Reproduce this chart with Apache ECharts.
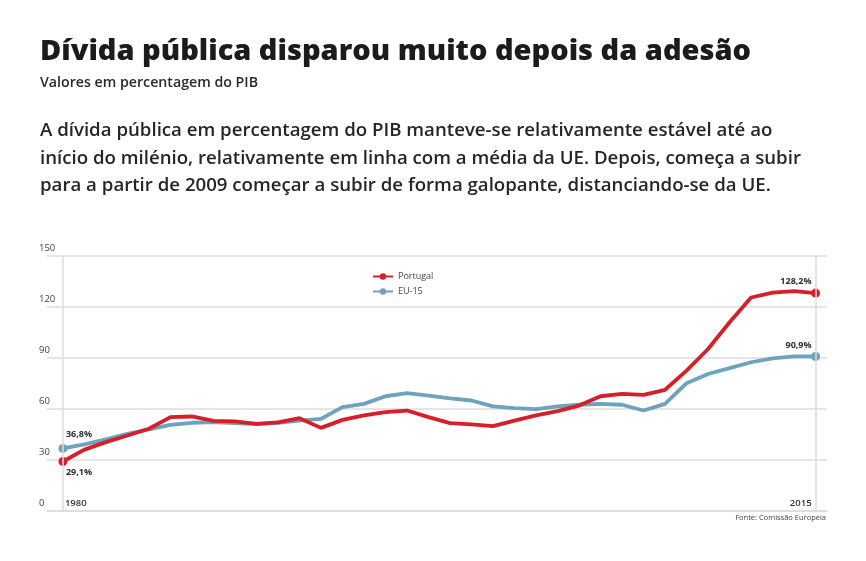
<!DOCTYPE html>
<html>
<head>
<meta charset="utf-8">
<script src="https://cdn.jsdelivr.net/npm/echarts@6/dist/echarts.min.js"></script>
<style>
html,body{margin:0;padding:0;background:#fff;}
#c{width:866px;height:561px;}
</style>
</head>
<body>
<div id="c"></div>
<script>
var years = [1980,1981,1982,1983,1984,1985,1986,1987,1988,1989,1990,1991,1992,1993,1994,1995,1996,1997,1998,1999,2000,2001,2002,2003,2004,2005,2006,2007,2008,2009,2010,2011,2012,2013,2014,2015];
var portugal = [29.1,36.1,40.5,44.4,48.4,55.2,55.6,53.0,52.7,51.3,52.1,54.6,48.9,53.6,56.2,58.1,59.1,55.2,51.7,50.9,49.9,53.2,56.2,58.7,62.0,67.5,68.9,68.3,71.3,82.6,95.3,111.0,125.6,128.5,129.3,128.2];
var eu15 = [36.8,39.2,42.1,45.4,48.0,50.7,51.9,52.3,51.7,51.1,51.9,53.2,54.2,61.1,63.0,67.5,69.3,67.9,66.3,65.0,61.5,60.5,59.9,61.5,62.5,63.0,62.5,59.1,63.0,75.2,80.6,84.0,87.5,89.8,91.0,90.9];
var yTicks = [0,30,60,90,120,150];
var xLabelYears = [1980,2015];
var seriesNames = ['Portugal','EU-15'];

var RED = '#d81e28', BLUE = '#6ca3bd';

function fmt(v){ return v.toFixed(1).replace('.', ',') + '%'; }

function buildData(vals, firstLabel, lastLabel){
  return vals.map(function(v, i){
    var item = {value: [years[i], v]};
    if (i === 0 || i === vals.length - 1) {
      var cfg = i === 0 ? firstLabel : lastLabel;
      item.symbolSize = 9;
      item.label = {
        show: true,
        formatter: fmt(v),
        position: cfg.position,
        align: cfg.align,
        offset: cfg.offset,
        color: '#2e2e2e', fontSize: 9, fontFamily: 'Open Sans', fontWeight: 700
      };
    } else {
      item.symbolSize = 0;
    }
    return item;
  });
}

var chart = echarts.init(document.getElementById('c'), null, {renderer: 'canvas'});
chart.setOption({
  animation: false,
  backgroundColor: '#fff',
  title: [
    {text: 'Dívida pública disparou muito depois da adesão', left: 40, top: 37, padding: 0,
     textStyle: {fontFamily: 'Open Sans', fontWeight: 800, fontSize: 29, color: '#1b1b1b'}},
    {text: 'Valores em percentagem do PIB', left: 40, top: 76, padding: 0,
     textStyle: {fontFamily: 'Open Sans', fontWeight: 600, fontSize: 14.2, color: '#2a2a2a'}},
    {text: 'A dívida pública em percentagem do PIB manteve-se relativamente estável até ao\ninício do milénio, relativamente em linha com a média da UE. Depois, começa a subir\npara a partir de 2009 começar a subir de forma galopante, distanciando-se da UE.',
     left: 40, top: 117, padding: 0,
     textStyle: {fontFamily: 'Open Sans', fontWeight: 600, fontSize: 18.65, lineHeight: 27.5, color: '#262626'}},
    {text: 'Fonte: Comissão Europeia', right: 40, top: 514, padding: 0,
     textStyle: {fontFamily: 'Open Sans', fontWeight: 400, fontSize: 7.5, color: '#444'}}
  ],
  legend: {
    data: seriesNames,
    orient: 'vertical',
    left: 367, top: 267,
    itemWidth: 20, itemHeight: 8, itemGap: 6,
    textStyle: {fontFamily: 'Open Sans', fontSize: 9, color: '#444'}
  },
  grid: {left: 47, right: 39, top: 256, bottom: 50, containLabel: false},
  xAxis: {
    type: 'value',
    min: 1979.26, max: 2015.53,
    axisLine: {show: true, lineStyle: {color: '#dcdcdc', width: 1.5}},
    axisTick: {show: false},
    splitLine: {show: false},
    axisLabel: {
      show: true, inside: true, margin: 3,
      customValues: xLabelYears,
      formatter: function(v){ return String(v); },
      color: '#333', fontFamily: 'Open Sans', fontWeight: 600, fontSize: 9.5,
      padding: [0, 4, 0, 2],
      alignMinLabel: 'left', alignMaxLabel: 'right'
    }
  },
  yAxis: {
    type: 'value',
    min: 0, max: 150, interval: 30,
    axisLine: {show: false},
    axisTick: {show: false},
    splitLine: {show: true, lineStyle: {color: '#dcdcdc', width: 1.5}},
    axisLabel: {
      align: 'left', margin: 8, verticalAlign: 'bottom', padding: [0,0,3,0],
      color: '#444', fontFamily: 'Open Sans', fontSize: 9.5
    }
  },
  series: [
    {
      name: seriesNames[0], type: 'line', z: 3,
      data: buildData(portugal,
        {position: 'bottom', align: 'left', offset: [3, -3]},
        {position: 'top', align: 'right', offset: [-4, 2]}),
      symbol: 'circle', showAllSymbol: true,
      lineStyle: {color: RED, width: 3.8},
      itemStyle: {color: RED},
      emphasis: {disabled: true}
    },
    {
      name: seriesNames[1], type: 'line', z: 2,
      data: buildData(eu15,
        {position: 'top', align: 'left', offset: [3, 0]},
        {position: 'top', align: 'right', offset: [-4, 3]}),
      symbol: 'circle', showAllSymbol: true,
      lineStyle: {color: BLUE, width: 3.8},
      itemStyle: {color: BLUE},
      emphasis: {disabled: true},
      markLine: {
        silent: true, symbol: 'none', label: {show: false},
        lineStyle: {color: '#dcdcdc', width: 1.5, type: 'solid'},
        data: xLabelYears.map(function(y){ return {xAxis: y}; })
      }
    }
  ]
});
</script>
</body>
</html>
